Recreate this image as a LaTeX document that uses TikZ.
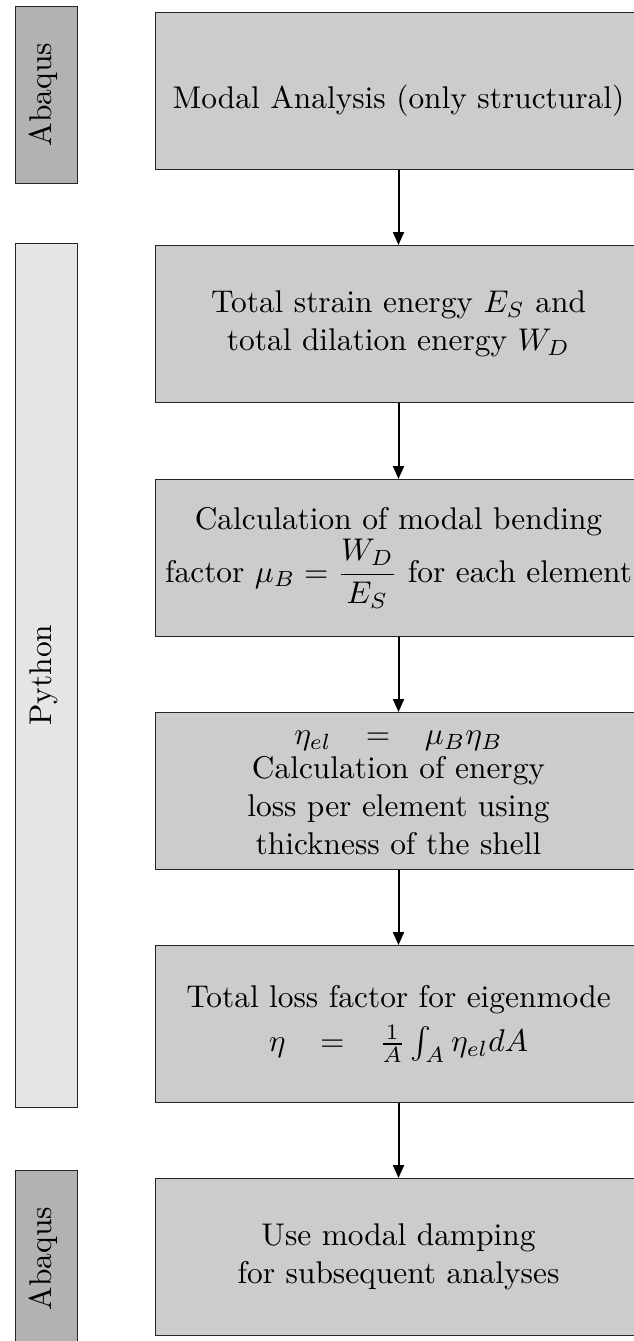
\documentclass[tikz,border=0pt]{standalone}
\usepackage{amsmath}
\usetikzlibrary{arrows.meta}

\begin{document}
\begin{tikzpicture}[x=1pt,y=-1pt,
  stepbox/.style={draw=black!85, line width=1pt, fill=black!20,
    minimum width=486pt, minimum height=157pt, inner sep=0pt, anchor=north west},
  toolbar/.style={draw=black!85, line width=1pt,
    minimum width=62pt, inner sep=0pt, anchor=north west},
  % texts are set at 10pt and enlarged as a whole
  steptext/.style={font=\normalsize, align=center, inner sep=0pt, scale=3.14},
  toollabel/.style={font=\normalsize, rotate=90, scale=3.14, inner sep=0pt, anchor=base},
  flow/.style={line width=2pt, -{Triangle[length=13pt,width=11pt]}}]

\useasboundingbox (0,0) rectangle (633,1341);

% tool bars on the left
\node[toolbar, fill=black!30, minimum height=177pt] (abq1) at (15,6) {};
\node[toolbar, fill=black!10, minimum height=864pt] (py) at (15,243) {};
\node[toolbar, fill=black!30, minimum height=177pt] (abq2) at (15,1170) {};
\node[toollabel] (labq1) at (51,94.5) {Abaqus};
\node[toollabel] (lpy) at (51,675) {Python};
\node[toollabel] (labq2) at (51,1258.5) {Abaqus};

% process steps
\node[stepbox] (b1) at (155,12) {};
\node[stepbox] (b2) at (155,245) {};
\node[stepbox] (b3) at (155,479) {};
\node[stepbox] (b4) at (155,712) {};
\node[stepbox] (b5) at (155,945) {};
\node[stepbox] (b6) at (155,1178) {};

\node[steptext] (t1) at ([yshift=-10pt]b1.center) {Modal Analysis (only structural)};
\node[steptext] (t2) at (b2.center) {Total strain energy $E_S$ and\\total dilation energy $W_D$};
\node[steptext] (t3) at (b3.center) {Calculation of modal bending\\factor $\mu_B=\dfrac{W_D}{E_S}$ for each element};
\node[steptext] (t4) at ([yshift=-2pt]b4.center) {$\eta_{el}\hspace{1.1em}{=}\hspace{1.1em}\mu_B\eta_B$\\[-1.2pt]Calculation of energy\\loss per element using\\thickness of the shell};
\node[steptext] (t5) at (b5.center) {Total loss factor for eigenmode\\[2.2pt]$\eta\hspace{1.1em}{=}\hspace{1.1em}\tfrac{1}{A}\int_A\eta_{el}dA$};
\node[steptext] (t6) at (b6.center) {Use modal damping\\for subsequent analyses};

% connectors
\draw[flow] (b1) -- (b2);
\draw[flow] (b2) -- (b3);
\draw[flow] (b3) -- (b4);
\draw[flow] (b4) -- (b5);
\draw[flow] (b5) -- (b6);
\end{tikzpicture}
\end{document}
